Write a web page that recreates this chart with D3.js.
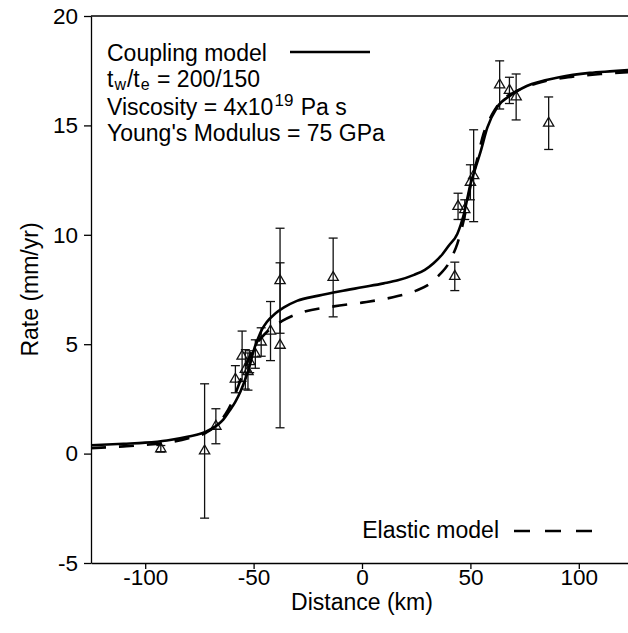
<!DOCTYPE html>
<html>
<head>
<meta charset="utf-8">
<script src="https://cdn.jsdelivr.net/npm/d3@7"></script>
<style>
  body { margin: 0; background: #fff; }
  text { font-family: "Liberation Sans", Arial, sans-serif; fill: #000; }
</style>
</head>
<body>
<div id="chart"></div>
<script>
// Observed rates (triangles with error bars)
const obsX = [-92.8, -72.6, -67.4, -58.4, -55.3, -53.8, -52.6, -51.8, -49.2, -46.5, -42.2, -37.8, -37.8,
              -13.3, 42.8, 44.3, 47.4, 50.0, 51.5, 63.5, 68.0, 71.1, 86.1];
const obsY = [0.22, 0.12, 1.25, 3.4, 4.45, 3.85, 3.75, 4.2, 4.55, 5.1, 5.6, 7.9, 4.95,
              8.05, 8.1, 11.3, 11.15, 12.4, 12.7, 16.85, 16.6, 16.3, 15.1];
const obsErr = [0.15, 3.07, 0.8, 0.62, 1.15, 0.9, 0.85, 0.5, 0.65, 0.65, 1.35, 2.4, 3.77,
                1.8, 0.65, 0.6, 0.45, 0.8, 2.1, 1.1, 0.6, 1.05, 1.2];

// Coupling model curve (solid)
const couplingX = [-125, -110, -100, -90, -80, -72, -67, -64, -61.5, -58.5, -56, -54, -52, -50, -48, -46, -44,
                   -40, -36, -30, -20, -10, 0, 10, 16.5, 24, 29, 33, 37, 40, 44, 47, 50, 52, 54.7,
                   57.8, 62.4, 68.5, 76, 91, 105, 116, 125];
const couplingY = [0.38, 0.45, 0.5, 0.6, 0.78, 1.0, 1.28, 1.55, 1.9, 2.35, 2.85, 3.35, 3.95, 4.7, 5.25, 5.7, 6.0,
                   6.4, 6.68, 6.98, 7.22, 7.42, 7.6, 7.78, 7.92, 8.17, 8.4, 8.7, 9.1, 9.5, 10.05, 10.95, 12.3, 12.95, 13.8,
                   14.9, 15.84, 16.37, 16.8, 17.2, 17.4, 17.48, 17.55];

// Elastic model curve (dashed)
const elasticX = [-125, -110, -100, -90, -80, -72, -67, -63, -60, -57, -54, -51, -48, -44.5, -41, -37, -30,
                  -13, 0, 16.5, 25, 31.8, 36, 39.4, 42, 44, 47, 50, 53, 56, 60, 64, 70, 80, 95, 110, 125];
const elasticY = [0.25, 0.33, 0.4, 0.5, 0.7, 0.95, 1.3, 1.8, 2.35, 3.1, 3.9, 4.6, 5.1, 5.5, 5.8, 6.05, 6.38,
                  6.73, 6.9, 7.2, 7.45, 7.8, 8.2, 8.6, 9.1, 9.6, 10.7, 12.2, 13.4, 14.6, 15.5, 16.1, 16.5, 16.9, 17.2, 17.35, 17.45];

const xTicks = [-100, -50, 0, 50, 100];
const yTicks = [-5, 0, 5, 10, 15, 20];

const width = 628, height = 633;
const fs = 23;
const svg = d3.select("#chart").append("svg")
    .attr("width", width)
    .attr("height", height);

const x = d3.scaleLinear().domain([-125, 125]).range([91, 633]);
const y = d3.scaleLinear().domain([-5, 20]).range([563, 16]);

// frame: top line (right side is off the picture)
svg.append("line")
    .attr("x1", x(-125)).attr("x2", x(125))
    .attr("y1", y(20)).attr("y2", y(20))
    .attr("stroke", "#000").attr("stroke-width", 1.3);

const xAxis = svg.append("g")
    .attr("transform", `translate(0, ${y(-5)})`)
    .call(d3.axisBottom(x).tickValues(xTicks).tickFormat(d => String(d))
        .tickSize(6).tickPadding(0).tickSizeOuter(0));
const yAxis = svg.append("g")
    .attr("transform", `translate(${x(-125)}, 0)`)
    .call(d3.axisLeft(y).tickValues(yTicks).tickFormat(d => String(d))
        .tickSize(7).tickPadding(6).tickSizeOuter(0));

[xAxis, yAxis].forEach(a => {
    a.select(".domain").attr("stroke-width", 1.3);
    a.selectAll(".tick line").attr("stroke-width", 1.3);
    a.selectAll(".tick text")
        .attr("font-size", 22.5)
        .style("font-family", '"Liberation Sans", Arial, sans-serif');
});

svg.append("text")
    .attr("x", x(0))
    .attr("y", 610)
    .attr("text-anchor", "middle")
    .attr("font-size", fs)
    .text("Distance (km)");

svg.append("text")
    .attr("transform", `translate(38, ${y(7.5)}) rotate(-90)`)
    .attr("text-anchor", "middle")
    .attr("font-size", fs)
    .text("Rate (mm/yr)");

// error bars and triangles
const obs = obsX.map((d, i) => ({ x: d, y: obsY[i], e: obsErr[i] }));
const bars = svg.append("g")
    .attr("stroke", "#111")
    .attr("stroke-width", 1.3)
    .attr("fill", "none");

obs.forEach(d => {
    bars.append("line")
        .attr("x1", x(d.x)).attr("x2", x(d.x))
        .attr("y1", y(d.y - d.e)).attr("y2", y(d.y + d.e));
    [d.y - d.e, d.y + d.e].forEach(v => {
        bars.append("line")
            .attr("x1", x(d.x) - 4.5).attr("x2", x(d.x) + 4.5)
            .attr("y1", y(v)).attr("y2", y(v));
    });
});

bars.selectAll("path.tri")
    .data(obs)
    .enter()
    .append("path")
    .attr("class", "tri")
    .attr("d", d3.symbol(d3.symbolTriangle, 46))
    .attr("transform", d => `translate(${x(d.x)}, ${y(d.y)})`);

// model curves
const line = d3.line()
    .x(d => x(d[0]))
    .y(d => y(d[1]))
    .curve(d3.curveMonotoneX);

svg.append("path")
    .datum(elasticX.map((d, i) => [d, elasticY[i]]))
    .attr("d", line)
    .attr("fill", "none")
    .attr("stroke", "#000")
    .attr("stroke-width", 2.6)
    .attr("stroke-dasharray", "15,13");

svg.append("path")
    .datum(couplingX.map((d, i) => [d, couplingY[i]]))
    .attr("d", line)
    .attr("fill", "none")
    .attr("stroke", "#000")
    .attr("stroke-width", 2.6);

// legend text; sub/superscripts are separate pieces laid out left to right
const lg = svg.append("g").attr("font-size", fs);

function textRow(y0, parts) {
    let cx = 107;
    parts.forEach(p => {
        const t = lg.append("text")
            .attr("x", cx)
            .attr("y", y0 + (p.dy || 0))
            .attr("font-size", p.size || fs)
            .style("white-space", "pre")
            .text(p.s);
        cx += t.node().getComputedTextLength() + 1;
    });
}

lg.append("text").attr("x", 107).attr("y", 61).text("Coupling model");
lg.append("line")
    .attr("x1", 290).attr("x2", 370).attr("y1", 52).attr("y2", 52)
    .attr("stroke", "#000").attr("stroke-width", 2.6);

textRow(87, [
    { s: "t" }, { s: "w", size: 16, dy: 3 }, { s: "/t" }, { s: "e", size: 16, dy: 3 }, { s: "\u00a0= 200/150" }
]);
textRow(115, [
    { s: "Viscosity = 4x10" }, { s: "19", size: 17, dy: -9 }, { s: "\u00a0Pa s" }
]);
lg.append("text").attr("x", 107).attr("y", 141).text("Young's Modulus = 75 GPa");

lg.append("text").attr("x", 499).attr("y", 538).attr("text-anchor", "end").text("Elastic model");
lg.append("line")
    .attr("x1", 514).attr("x2", 592).attr("y1", 531).attr("y2", 531)
    .attr("stroke", "#000").attr("stroke-width", 2.6)
    .attr("stroke-dasharray", "16,15");
</script>
</body>
</html>
